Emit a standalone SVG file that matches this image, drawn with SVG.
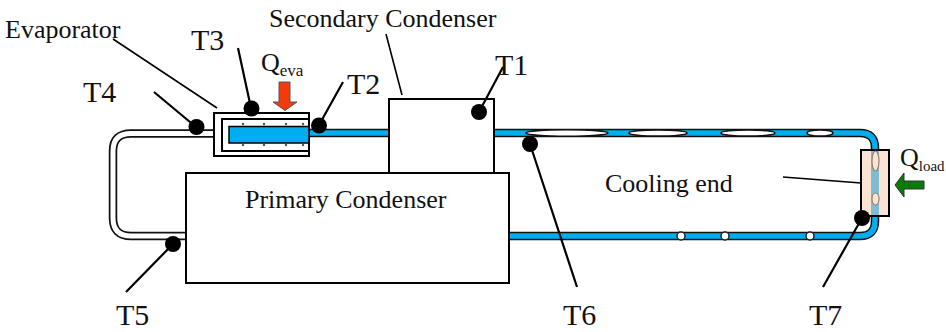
<svg xmlns="http://www.w3.org/2000/svg" width="946" height="332" viewBox="0 0 946 332">
<style>
text{font-family:"Liberation Serif","Times New Roman",serif;fill:#111}
.l{font-size:30px}.m{font-size:26px}.q{font-size:26px}.s{font-size:17px}.s2{font-size:15px}
.box{fill:#fff;stroke:#000;stroke-width:2}
.lead{fill:none;stroke:#000;stroke-width:1.6}
.tk{fill:none;stroke:#000;stroke-width:2.2}
.dot{fill:#000}
.pipeo{fill:none;stroke:#111;stroke-width:8.5}
.pipei{fill:none;stroke:#fff;stroke-width:5}
.blue{fill:none;stroke:#00aeef;stroke-width:5.5}
.bub{fill:#fff;stroke:#111;stroke-width:1.5}
.bd{fill:#fff;stroke:#222;stroke-width:1.5}
.tiny{fill:#555}
.ov{fill:#fbe3d4;stroke:#9a8070;stroke-width:1.2}
</style>
<g id="pipes">
<path class="pipeo" d="M214,133.500H131Q113,133.500 113,151V218Q113,236 131,236H186"/>
<path class="pipei" d="M214,133.500H131Q113,133.500 113,151V218Q113,236 131,236H186"/>
<path class="pipeo" d="M309,133H389M493,133H860Q875,133 875,148V221Q875,236 860,236H509"/>
<path class="blue" d="M309,133H389M493,133H860Q875,133 875,148V221Q875,236 860,236H509"/>
</g>
<g id="bubbles">
<ellipse class="bub" cx="567" cy="133" rx="41" ry="3.200"/>
<ellipse class="bub" cx="658" cy="133" rx="29" ry="3"/>
<ellipse class="bub" cx="748" cy="133" rx="27" ry="3"/>
<ellipse class="bub" cx="820" cy="133" rx="13" ry="3"/>
<circle class="bd" cx="681" cy="236" r="4"/>
<circle class="bd" cx="725" cy="236" r="4"/>
<circle class="bd" cx="810" cy="236" r="4"/>
</g>
<g id="secondary-condenser">
<rect class="box" x="389" y="99" width="105" height="75"/>
</g>
<g id="primary-condenser">
<rect class="box" x="186" y="173" width="323" height="110"/>
<text class="m" x="245" y="208">Primary Condenser</text>
</g>
<g id="evaporator">
<rect class="box" x="214" y="113" width="95" height="43"/>
<rect class="box" x="222" y="119" width="87" height="32"/>
<rect x="229" y="126.500" width="80" height="16.500" fill="#00aeef" stroke="#000" stroke-width="1.500"/>
<g class="tiny">
<circle cx="243" cy="124" r="1.200"/><circle cx="264" cy="124" r="1.200"/><circle cx="286" cy="124" r="1.200"/><circle cx="303" cy="124" r="1.200"/>
<circle cx="243" cy="145" r="1.200"/><circle cx="264" cy="145" r="1.200"/><circle cx="286" cy="145" r="1.200"/><circle cx="303" cy="145" r="1.200"/>
</g>
</g>
<g id="cooling-end">
<rect x="861" y="150" width="28" height="66" fill="#fbe3d4" stroke="#000" stroke-width="2"/>
<rect x="871" y="151" width="8" height="64" fill="#7fbcd2"/>
<ellipse class="ov" cx="875.500" cy="161" rx="3.500" ry="10"/>
<ellipse class="ov" cx="875.500" cy="199" rx="3.500" ry="6"/>
</g>
<g id="connectors">
<path class="lead" d="M113,39L217,108M386,34L402,95M783,177L861,183"/>
<path class="tk" d="M154,92L196,127M238,48L251,108M343,82L319,125M503,67L479,112M126,292L173,244M530,144L577,287M862,218L823,287"/>
</g>
<g id="sensors">
<circle class="dot" cx="196.500" cy="127" r="8"/>
<circle class="dot" cx="251.500" cy="108.500" r="8"/>
<circle class="dot" cx="319" cy="125.500" r="8"/>
<circle class="dot" cx="479" cy="112" r="8"/>
<circle class="dot" cx="530" cy="144" r="8"/>
<circle class="dot" cx="173" cy="244" r="8"/>
<circle class="dot" cx="862" cy="218" r="8"/>
</g>
<g id="arrows">
<polygon points="279,82 290,82 290,102 297,102 285,110.500 273,102 279,102" fill="#f33a0a" stroke="#555" stroke-width="1"/>
<polygon points="924,181 904,181 904,173 895,185 904,197 904,189 924,189" fill="#0a7a0a" stroke="#333" stroke-width="1"/>
</g>
<g id="labels">
<text class="m" x="5" y="38">Evaporator</text>
<text class="m" x="269" y="27">Secondary Condenser</text>
<text class="l" x="191" y="50">T3</text>
<text class="l" x="83" y="102">T4</text>
<text class="l" x="347" y="94">T2</text>
<text class="l" x="495" y="75">T1</text>
<text class="l" x="116" y="325">T5</text>
<text class="l" x="563" y="325">T6</text>
<text class="l" x="809" y="325">T7</text>
<text class="q" x="261" y="71">Q<tspan class="s" dy="5">eva</tspan></text>
<text class="q" x="900" y="166">Q<tspan class="s2" dy="5">load</tspan></text>
<text class="m" x="605" y="192">Cooling end</text>
</g>
</svg>
